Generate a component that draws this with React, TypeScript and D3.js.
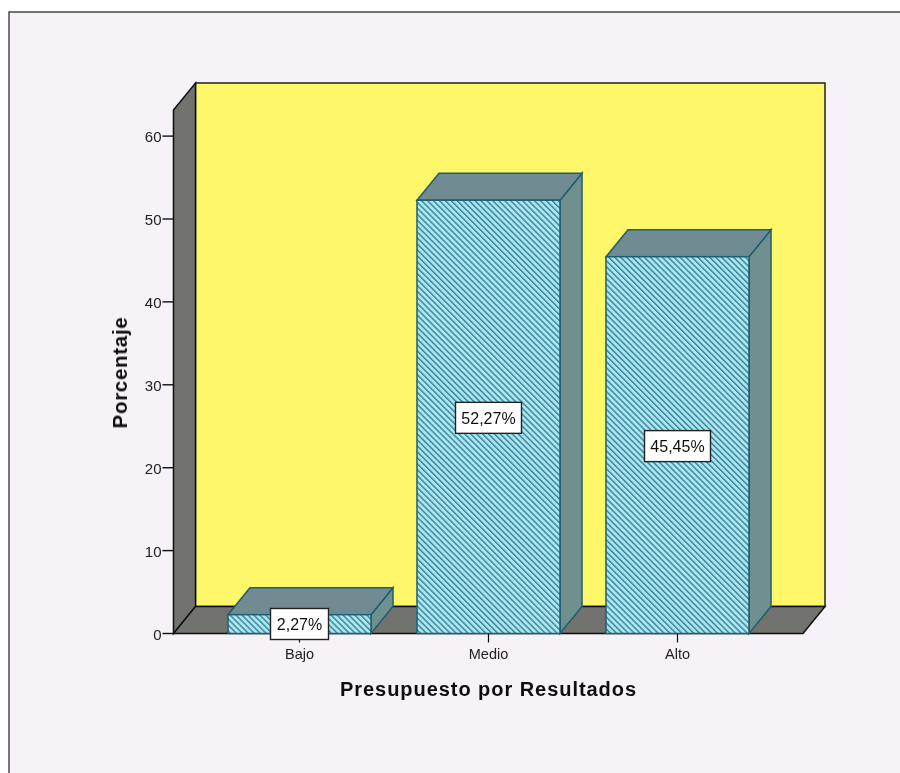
import React from "react";
import * as d3 from "d3";

const categories = ["Bajo", "Medio", "Alto"];
const values = [2.27, 52.27, 45.45];
const valueLabels = ["2,27%", "52,27%", "45,45%"];
const yTicks = [0, 10, 20, 30, 40, 50, 60];
const yTop = 66.4;
const xTitle = "Presupuesto por Resultados";
const yTitle = "Porcentaje";

const W = 900, H = 773;
const DX = 22, DY = -27;
const y = d3.scaleLinear().domain([0, yTop]).range([633.5, 633.5 - 8.29 * yTop]);
const frontL = 173.5, frontR = 803;
const x = d3.scaleBand<string>().domain(categories).range([205, 772]).paddingInner(46 / 189).paddingOuter(23 / 189);
const poly = (pts: [number, number][]) => d3.line()(pts) + "Z";

export default function App() {
  const y0 = y(0), yT = y(yTop);
  const font = "'Liberation Sans', Arial, sans-serif";
  return (
    <svg width={W} height={H} style={{ position: "absolute", left: 0, top: 0, display: "block" }} fontFamily={font}>
      <defs>
        <pattern id="hatch" width="4.2" height="4.2" patternUnits="userSpaceOnUse" patternTransform="rotate(-45)">
          <rect width="4.2" height="4.2" fill="#aee6f0" />
          <rect width="1.5" height="4.2" fill="#3a87a0" />
        </pattern>
        <filter id="soft"><feGaussianBlur stdDeviation="0.35" /></filter>
      </defs>
      <rect width={W} height={H} fill="#ffffff" />
      <rect x={9} y={12} width={W} height={H} fill="#f6f2f7" stroke="#4a4a4a" strokeWidth={1.5} />
      <g filter="url(#soft)">
        <path d={poly([[frontL + DX, yT], [825, yT], [825, y0 + DY], [frontL + DX, y0 + DY]])} fill="#fff76b" stroke="#222" strokeWidth={1.5} />
        <path d={poly([[frontL, yT - DY], [frontL + DX, yT], [frontL + DX, y0 + DY], [frontL, y0]])} fill="#72736e" stroke="#111" strokeWidth={1.5} />
        <path d={poly([[frontL, y0], [frontL + DX, y0 + DY], [frontR + DX, y0 + DY], [frontR, y0]])} fill="#72736e" stroke="#111" strokeWidth={1.5} />
        {yTicks.map(t => (
          <g key={t}>
            <line x1={frontL - 11} x2={frontL} y1={y(t)} y2={y(t)} stroke="#111" strokeWidth={1.4} />
            <text x={frontL - 12} y={y(t) + 6} textAnchor="end" fontSize={15} fill="#222">{t}</text>
          </g>
        ))}
        {categories.map((c, i) => {
          const l = x(c)!, r = l + x.bandwidth(), t = y(values[i]);
          const stroke = "#1c5f70";
          return (
            <g key={c}>
              <path d={poly([[r, t], [r + DX, t + DY], [r + DX, y0 + DY], [r, y0]])} fill="#6f908f" stroke={stroke} strokeWidth={1.5} />
              <path d={poly([[l, t], [l + DX, t + DY], [r + DX, t + DY], [r, t]])} fill="#6f8b92" stroke={stroke} strokeWidth={1.5} />
              <rect x={l} y={t} width={r - l} height={y0 - t} fill="url(#hatch)" stroke={stroke} strokeWidth={1.5} />
            </g>
          );
        })}
        {categories.map(c => {
          const cx = x(c)! + x.bandwidth() / 2;
          return (
            <g key={c}>
              <line x1={cx} x2={cx} y1={y0} y2={y0 + 9} stroke="#111" strokeWidth={1.2} />
              <text x={cx} y={y0 + 25} textAnchor="middle" fontSize={14.5} fill="#222">{c}</text>
            </g>
          );
        })}
        {categories.map((c, i) => {
          const cx = x(c)! + x.bandwidth() / 2;
          const w = i === 0 ? 58 : 66, h = 31;
          const cy = i === 0 ? 624 : y(values[i] / 2) + 1;
          return (
            <g key={c}>
              <rect x={cx - w / 2} y={cy - h / 2} width={w} height={h} fill="#fff" stroke="#222" strokeWidth={1.4} />
              <text x={cx} y={cy + 6} textAnchor="middle" fontSize={16} fill="#111">{valueLabels[i]}</text>
            </g>
          );
        })}
        <text x={488.5} y={696} textAnchor="middle" fontSize={20} fontWeight="bold" letterSpacing={0.95} fill="#111">{xTitle}</text>
        <text transform="translate(127,372.5) rotate(-90)" textAnchor="middle" fontSize={20.5} fontWeight="bold" letterSpacing={0.7} fill="#111">{yTitle}</text>
      </g>
    </svg>
  );
}
